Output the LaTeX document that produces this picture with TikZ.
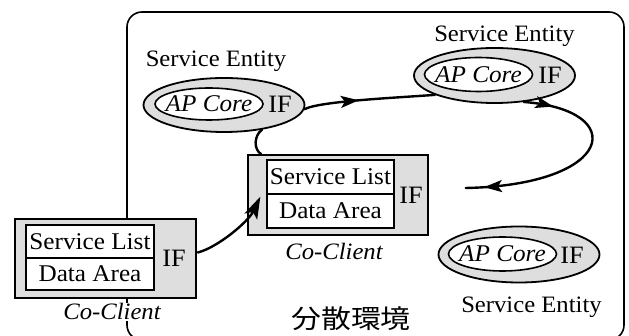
\documentclass[tikz,border=0pt]{standalone}
\usepackage{fontspec}
\setmainfont{Liberation Serif}[FakeStretch=1.05]
\newfontfamily\cjk{Noto Sans CJK JP}
\usetikzlibrary{shapes.geometric,arrows.meta,decorations.markings,calc}
\begin{document}
\begin{tikzpicture}[x=1pt,y=-1pt,
  stip/.style={fill=black!13},
  outbox/.style={draw,line width=1.4pt,stip,rectangle,inner sep=0pt},
  cell/.style={draw,line width=1.3pt,fill=white,rectangle,inner sep=0pt,font=\fontsize{24}{27}\selectfont},
  ifl/.style={inner sep=0pt,font=\fontsize{25}{28}\selectfont},
  outell/.style={draw,line width=1.8pt,stip,ellipse,inner sep=0pt,minimum width=161pt,minimum height=54pt},
  inell/.style={draw,line width=1.6pt,fill=white,ellipse,inner sep=0pt,minimum width=108pt,minimum height=32pt},
  coretext/.style={font=\fontsize{24}{27}\selectfont\itshape,inner sep=0pt},
  selab/.style={font=\fontsize{23.5}{26}\selectfont,inner sep=0pt,anchor=base},
  cclab/.style={font=\fontsize{23.5}{26}\selectfont\itshape,inner sep=1pt,anchor=base,fill=white},
  conn/.style={line width=2.4pt,line cap=round},
  bigtip/.style={-{Stealth[length=22pt,width=14pt,inset=5pt]}},
  midarrow/.style={postaction={decorate},decoration={markings,mark=at position #1 with {\arrow{Stealth[length=18pt,width=12pt,inset=4pt]}}}},
  twoarrows/.style={postaction={decorate},decoration={markings,
     mark=at position 0.13 with {\arrow{Stealth[length=18pt,width=12pt,inset=4pt]}},
     mark=at position 0.92 with {\arrow{Stealth[length=18pt,width=12pt,inset=4pt]}}}},
]
\useasboundingbox (0,0) rectangle (629,336);
% environment frame
\node[draw,line width=1.6pt,rounded corners=15pt,minimum width=497pt,minimum height=328pt,inner sep=0pt] (env) at (375.5,176) {};

% left Co-Client
\node[outbox,minimum width=181pt,minimum height=79pt] (cc1) at (105.5,258.5) {};
\node[cell,minimum width=128pt,minimum height=33pt] (sl1) at (90,241.5) {Service List};
\node[cell,minimum width=128pt,minimum height=32pt] (da1) at (90,274) {Data Area};
\node[ifl] (if1) at (174,258) {IF};
\node[cclab] (lab1) at (112,320) {Co-Client};

% center Co-Client
\node[outbox,minimum width=180pt,minimum height=80pt] (cc2) at (338,195) {};
\node[cell,minimum width=127pt,minimum height=34pt] (sl2) at (330.5,177) {Service List};
\node[cell,minimum width=127pt,minimum height=34pt] (da2) at (330.5,211) {Data Area};
\node[ifl] (if2) at (411,195) {IF};
\node[cclab] (lab2) at (334,260) {Co-Client};

% Service Entity 1
\node[outell] (e1) at (224,105) {};
\node[inell] (c1) at (209,104) {};
\node[coretext] (c1t) at (c1) {AP Core};
\node[ifl] (if3) at (280,104) {IF};
\node[selab] (s1) at (216,67) {Service Entity};

% Service Entity 2
\node[outell,minimum height=55pt] (e2) at (494.5,75.5) {};
\node[inell,minimum height=34pt] (c2) at (478.5,74.5) {};
\node[coretext] (c2t) at (c2) {AP Core};
\node[ifl] (if4) at (550,75) {IF};
\node[selab] (s2) at (504.5,42) {Service Entity};

% Service Entity 3
\node[outell,minimum height=56pt] (e3) at (519,254.5) {};
\node[inell,minimum height=34pt] (c3) at (502.5,254) {};
\node[coretext] (c3t) at (c3) {AP Core};
\node[ifl] (if5) at (572,255) {IF};
\node[selab] (s3) at (531.5,313) {Service Entity};

% environment label
\node[font=\cjk\fontsize{26}{30}\selectfont,inner sep=0pt] (envlab) at (351,319) {\scalebox{1.15}[1]{分散環境}};

% connectors
\coordinate (t1) at ($(sl2.south west)+(-6,2)$);
\draw[conn,bigtip] ($(cc1.east)+(1,-6)$) .. controls +(20,-5) and +(-12,25) .. (t1);
\draw[conn,midarrow=0.42] (e1.-3) .. controls +(15,-8) and +(-40,3) .. (e2.198);
\coordinate (c3end) at ($(cc2.east)+(37,-7)$);
\draw[conn,twoarrows] (e2.-42) .. controls (630,110) and (615,185) .. (c3end);
\draw[conn] (e1.-33) .. controls +(-8,6) and +(-8,-5) .. ($(cc2.north west)+(14,0)$);
\end{tikzpicture}
\end{document}
